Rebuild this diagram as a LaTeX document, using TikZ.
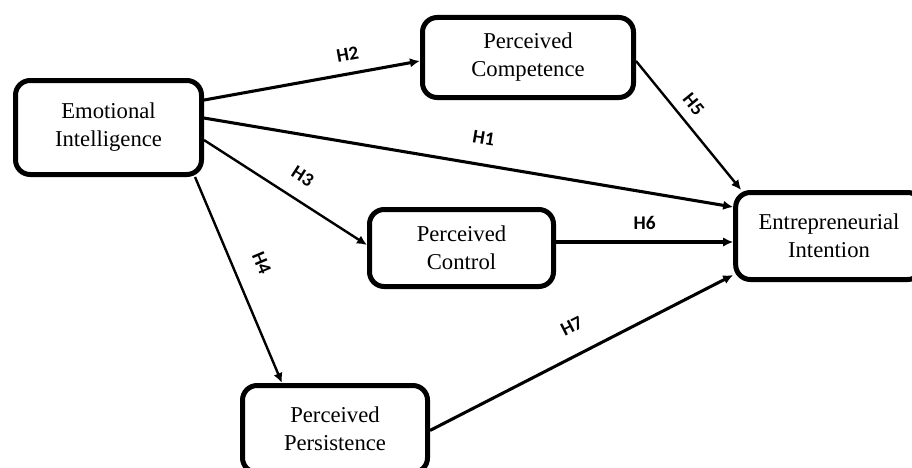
\documentclass[tikz,border=0pt]{standalone}
\usepackage{fontspec}
\setmainfont{Liberation Serif}
\newfontfamily\hfont{Carlito}
\usetikzlibrary{arrows.meta}

\begin{document}
\begin{tikzpicture}[x=0.75pt,y=-0.75pt]

\tikzstyle{blk}=[draw,line width=3.75pt,rounded corners=11pt,align=center,fill=white,font=\fontsize{17}{21}\selectfont]
\tikzstyle{arr}=[line width=1.8pt,-{Latex[length=7.5pt,width=7pt]}]
\tikzstyle{thk}=[arr,line width=2.3pt]
\tikzstyle{hyp}=[font=\hfont\bfseries\fontsize{14.5}{15}\selectfont,sloped,above=2pt]

\useasboundingbox (0,0) rectangle (912,467);

\node[blk,minimum width=139.5pt,minimum height=70.5pt] (emo) at (108.5,127.5) {Emotional\\Intelligence};
\node[blk,minimum width=158.25pt,minimum height=60pt] (comp) at (528,57.5) {Perceived\\Competence};
\node[blk,minimum width=138pt,minimum height=57.75pt] (ctrl) at (461.5,248) {Perceived\\Control};
\node[blk,minimum width=140pt,minimum height=65.25pt] (ent) at (829,236) {Entrepreneurial\\Intention};
\node[blk,minimum width=138.75pt,minimum height=65.25pt] (pers) at (335,429) {Perceived\\Persistence};

\draw[thk] ([yshift=20.6pt]emo.east) -- node[hyp,pos=.68,above=3pt] {H2} ([yshift=-2.6pt]comp.west);
\draw[thk] ([yshift=7.1pt]emo.east) -- node[hyp,pos=.52,above=9pt] {H1} ([yshift=21.75pt]ent.west);
\draw[arr] ([yshift=-9.4pt]emo.east) -- node[hyp,pos=.53,above=6pt] {H3} ([yshift=2.25pt]ctrl.west);
\draw[arr] ([xshift=64.9pt]emo.south) -- node[hyp,pos=.47,above=10pt] {H4} ([xshift=-39.75pt]pers.north);
\draw[arr] ([yshift=-2.6pt]comp.east) -- node[hyp,pos=.42,above=2pt] {H5} ([xshift=6pt]ent.north west);
\draw[thk] ([yshift=4.5pt]ctrl.east) -- node[hyp,pos=.5,above=3pt] {H6} ([yshift=-4.5pt]ent.west);
\draw[thk] ([yshift=-1.1pt]pers.east) -- node[hyp,pos=.51,above=10pt] {H7} ([yshift=-29.25pt]ent.west);

\end{tikzpicture}
\end{document}
